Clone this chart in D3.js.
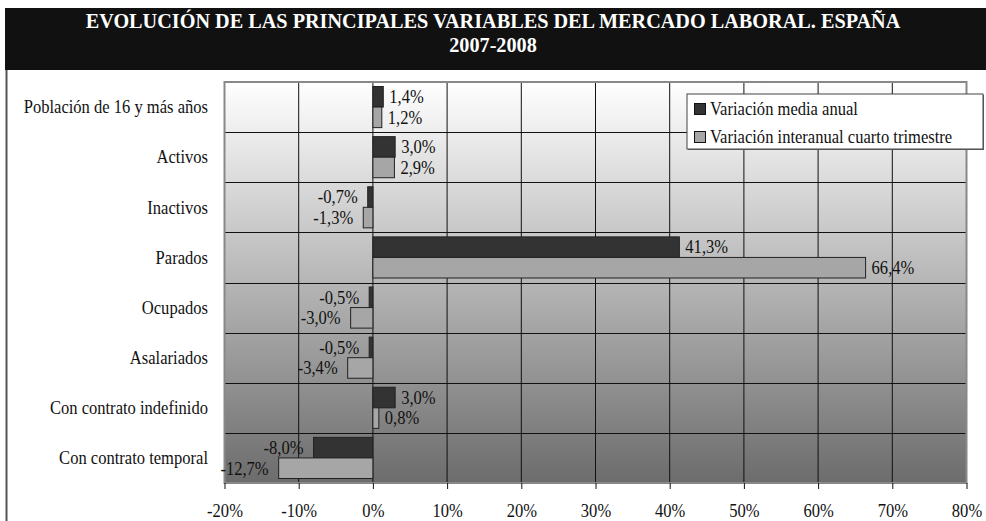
<!DOCTYPE html>
<html>
<head>
<meta charset="utf-8">
<script src="https://cdn.jsdelivr.net/npm/d3@7"></script>
<style>
  body { margin: 0; background: #fff; }
  svg text { font-family: "Liberation Serif", "Times New Roman", serif; }
</style>
</head>
<body>
<div id="chart"></div>
<script>
// data
const categories = ["Población de 16 y más años", "Activos", "Inactivos", "Parados",
  "Ocupados", "Asalariados", "Con contrato indefinido", "Con contrato temporal"];
const mediaAnual = [1.4, 3.0, -0.7, 41.3, -0.5, -0.5, 3.0, -8.0];
const interanualT4 = [1.2, 2.9, -1.3, 66.4, -3.0, -3.4, 0.8, -12.7];
const seriesNames = ["Variación media anual", "Variación interanual cuarto trimestre"];
const xTicks = [-20, -10, 0, 10, 20, 30, 40, 50, 60, 70, 80];
const titleLines = ["EVOLUCIÓN DE LAS PRINCIPALES VARIABLES DEL MERCADO LABORAL. ESPAÑA", "2007-2008"];

let W = 986, H = 521;
let plot = {left: 224.5, right: 966.5, top: 82, bottom: 483};
let colors = ["#333333", "#a6a6a6"];
let sx = 0.92; // text in the source looks a little narrow

let svg = d3.select("#chart").append("svg")
  .attr("width", W).attr("height", H);

// background gradient of plot area
let grad = svg.append("defs").append("linearGradient")
  .attr("id", "bg").attr("x1", 0).attr("y1", 0).attr("x2", 0).attr("y2", 1);
grad.append("stop").attr("offset", "0%").attr("stop-color", "#ffffff");
grad.append("stop").attr("offset", "100%").attr("stop-color", "#6c6c6c");

// title bar
svg.append("rect").attr("x", 5).attr("y", 8).attr("width", 981).attr("height", 62).attr("fill", "#111");
titleLines.forEach((t, i) => {
  svg.append("text")
    .attr("transform", "translate(" + 493 + "," + (28 + i * 24) + ") scale(" + sx + ",1)")
    .attr("text-anchor", "middle")
    .attr("fill", "#fff")
    .style("font-weight", "bold")
    .style("font-size", "22px")
    .text(t);
});

// left frame line
svg.append("line").attr("x1", 6.5).attr("x2", 6.5).attr("y1", 70).attr("y2", H)
  .attr("stroke", "#555").attr("stroke-width", 2);

let x = d3.scaleLinear().domain([-20, 80]).range([plot.left, plot.right]);
let y0 = d3.scaleBand().domain(categories).range([plot.top, plot.bottom])
  .paddingInner(0.18).paddingOuter(0.09);
let y1 = d3.scaleBand().domain([0, 1]).range([0, y0.bandwidth()]);
let gap = y0.step() * 0.09;

svg.append("rect")
  .attr("x", plot.left).attr("y", plot.top)
  .attr("width", plot.right - plot.left).attr("height", plot.bottom - plot.top)
  .attr("fill", "url(#bg)");

// grid
svg.selectAll(".vgrid").data(xTicks).enter().append("line")
  .attr("x1", d => x(d)).attr("x2", d => x(d))
  .attr("y1", plot.top).attr("y2", plot.bottom)
  .attr("stroke", "#111").attr("stroke-width", 1);
svg.selectAll(".hgrid").data(categories.slice(1)).enter().append("line")
  .attr("x1", plot.left).attr("x2", plot.right)
  .attr("y1", d => Math.round(y0(d) - gap) + 0.5).attr("y2", d => Math.round(y0(d) - gap) + 0.5)
  .attr("stroke", "#111").attr("stroke-width", 1);

// plot border
svg.append("rect")
  .attr("x", plot.left).attr("y", plot.top)
  .attr("width", plot.right - plot.left).attr("height", plot.bottom - plot.top)
  .attr("fill", "none").attr("stroke", "#888").attr("stroke-width", 2);

// axis
let axis = svg.append("g")
  .attr("transform", "translate(0," + plot.bottom + ")")
  .call(d3.axisBottom(x).tickValues(xTicks).tickSize(6).tickFormat(d => d + "%"));
axis.select(".domain").remove();
axis.selectAll(".tick line").attr("stroke", "#111");
axis.selectAll(".tick text")
  .attr("y", 21)
  .attr("transform", "scale(" + sx + ",1)")
  .attr("fill", "#111")
  .style("font-size", "18px");

let fmt = v => d3.format(".1f")(v).replace("\u2212", "-").replace(".", ",") + "%";

// bars
let series = [mediaAnual, interanualT4];
let rows = [];
series.forEach((vals, s) => {
  vals.forEach((v, i) => rows.push({cat: categories[i], s: s, v: v}));
});

svg.selectAll(".bar").data(rows).enter().append("rect")
  .attr("x", d => x(Math.min(0, d.v)))
  .attr("y", d => y0(d.cat) + y1(d.s))
  .attr("width", d => Math.abs(x(d.v) - x(0)))
  .attr("height", y1.bandwidth())
  .attr("fill", d => colors[d.s])
  .attr("stroke", "#222")
  .attr("stroke-width", 1);

svg.selectAll(".lbl").data(rows).enter().append("text")
  .attr("transform", d => {
    let px = d.v >= 0 ? x(d.v) + 6 : x(d.v) - 10;
    let py = y0(d.cat) + y1(d.s) + y1.bandwidth() / 2;
    return "translate(" + px + "," + py + ") scale(" + sx + ",1)";
  })
  .attr("dy", "0.35em")
  .attr("text-anchor", d => d.v >= 0 ? "start" : "end")
  .attr("fill", "#111")
  .style("font-size", "18px")
  .text(d => fmt(d.v));

// category labels
svg.selectAll(".cat").data(categories).enter().append("text")
  .attr("transform", d => "translate(208," + (y0(d) + y0.bandwidth() / 2) + ") scale(" + sx + ",1)")
  .attr("dy", "0.35em")
  .attr("text-anchor", "end")
  .attr("fill", "#111")
  .style("font-size", "18px")
  .text(d => d);

// legend
let lg = svg.append("g").attr("transform", "translate(687,94)");
lg.append("rect").attr("x", 1).attr("y", 1).attr("width", 296).attr("height", 55).attr("fill", "#666");
lg.append("rect").attr("width", 296).attr("height", 55).attr("fill", "#fff").attr("stroke", "#444");
seriesNames.forEach((n, i) => {
  lg.append("rect").attr("x", 7.5).attr("y", 9.5 + i * 28).attr("width", 11).attr("height", 11)
    .attr("fill", colors[i]).attr("stroke", "#111");
  lg.append("text")
    .attr("transform", "translate(23," + (15 + i * 28) + ") scale(" + sx + ",1)")
    .attr("dy", "0.35em")
    .attr("fill", "#111")
    .style("font-size", "18px")
    .text(n);
});
</script>
</body>
</html>
